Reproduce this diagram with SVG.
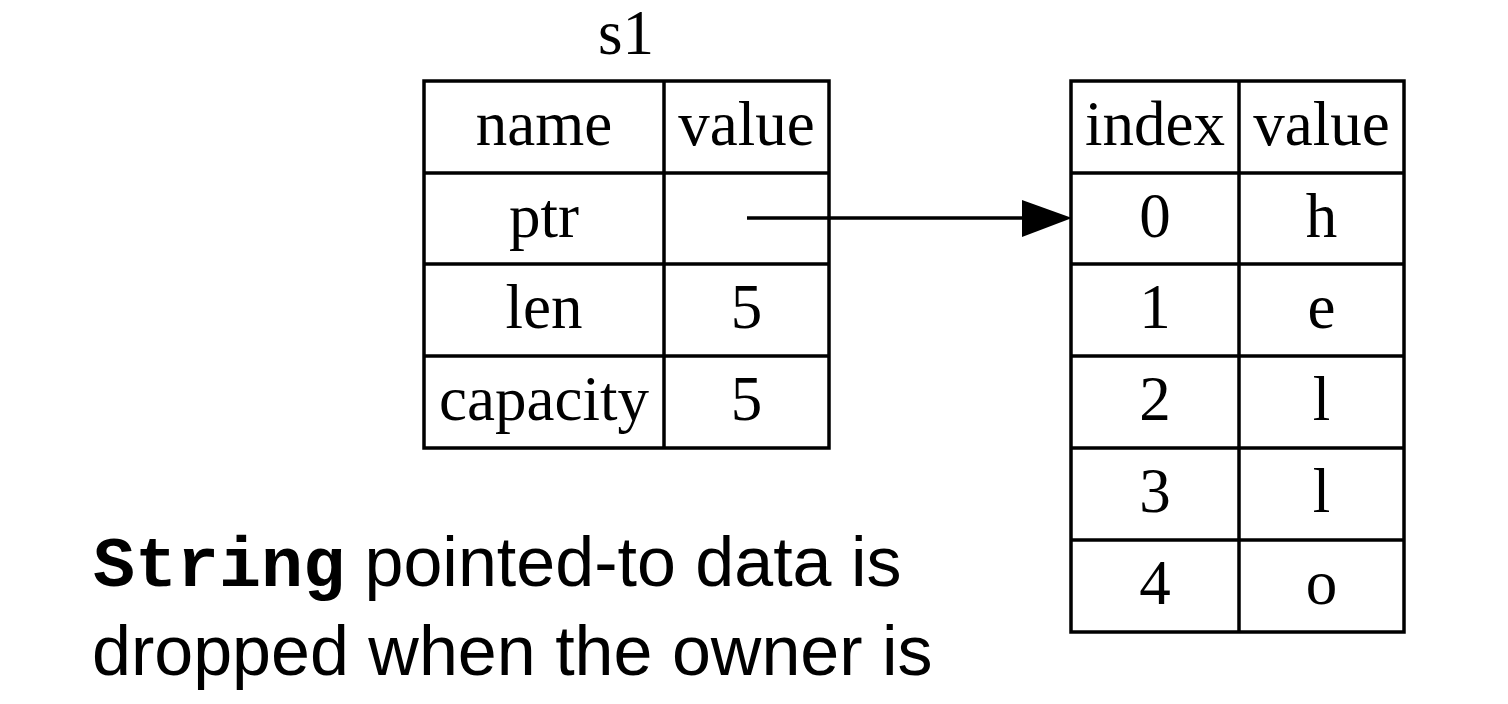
<svg xmlns="http://www.w3.org/2000/svg" width="1508" height="704" viewBox="0 0 1508 704">
<style>
.cell{fill:none;stroke:#000;stroke-width:3.5}
.t{font-family:"Liberation Serif","Times New Roman",serif;font-size:63px;fill:#000;text-anchor:middle}
.cap{font-family:"Liberation Sans",Arial,sans-serif;font-size:70px;fill:#000}
.mono{font-family:"Liberation Mono","Courier New",monospace;font-weight:bold}
.edge{stroke:#000;stroke-width:3.5;fill:none}
</style>
<rect width="1508" height="704" fill="#fff"/>
<g id="s1">
<text class="t" x="626" y="54">s1</text>
<rect class="cell" x="424" y="81" width="405" height="367"/>
<line class="cell" x1="664" y1="81" x2="664" y2="448"/>
<line class="cell" x1="424" y1="173" x2="829" y2="173"/>
<line class="cell" x1="424" y1="264" x2="829" y2="264"/>
<line class="cell" x1="424" y1="356" x2="829" y2="356"/>
<text class="t" x="544" y="145">name</text>
<text class="t" x="746.5" y="145">value</text>
<text class="t" x="544" y="237">ptr</text>
<text class="t" x="544" y="328">len</text>
<text class="t" x="746.5" y="328">5</text>
<text class="t" x="544" y="420">capacity</text>
<text class="t" x="746.5" y="420">5</text>
</g>
<g id="heap">
<rect class="cell" x="1071" y="81" width="333" height="551"/>
<line class="cell" x1="1239" y1="81" x2="1239" y2="632"/>
<line class="cell" x1="1071" y1="173" x2="1404" y2="173"/>
<line class="cell" x1="1071" y1="264" x2="1404" y2="264"/>
<line class="cell" x1="1071" y1="356" x2="1404" y2="356"/>
<line class="cell" x1="1071" y1="448" x2="1404" y2="448"/>
<line class="cell" x1="1071" y1="540" x2="1404" y2="540"/>
<text class="t" x="1155" y="145">index</text>
<text class="t" x="1321.5" y="145">value</text>
<text class="t" x="1155" y="237">0</text>
<text class="t" x="1321.5" y="237">h</text>
<text class="t" x="1155" y="328">1</text>
<text class="t" x="1321.5" y="328">e</text>
<text class="t" x="1155" y="420">2</text>
<text class="t" x="1321.5" y="420">l</text>
<text class="t" x="1155" y="512">3</text>
<text class="t" x="1321.5" y="512">l</text>
<text class="t" x="1155" y="604">4</text>
<text class="t" x="1321.5" y="604">o</text>
</g>
<g id="connectors">
<line class="edge" x1="747" y1="218" x2="1026" y2="218"/>
<polygon points="1022,200 1072,218 1022,237" fill="#000"/>
</g>
<g id="caption">
<text class="cap" x="93" y="586"><tspan class="mono">String</tspan> pointed-to data is</text>
<text class="cap" x="92" y="675">dropped when the owner is</text>
</g>
</svg>
